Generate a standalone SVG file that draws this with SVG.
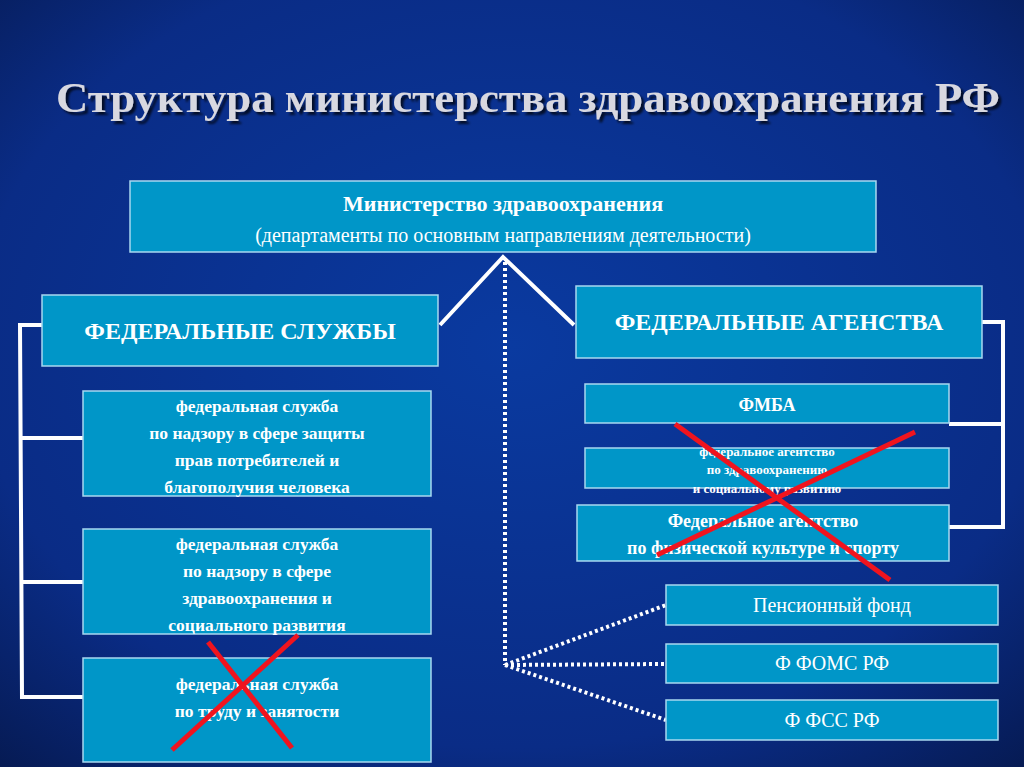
<svg xmlns="http://www.w3.org/2000/svg" width="1024" height="767" viewBox="0 0 1024 767">
<defs>
<radialGradient id="bg" cx="0.5" cy="0.45" r="0.75">
<stop offset="0" stop-color="#0a3aa0"/><stop offset="0.7" stop-color="#0a2c86"/><stop offset="1" stop-color="#061a52"/>
</radialGradient>
<filter id="sh" x="-5%" y="-30%" width="110%" height="160%"><feDropShadow dx="3" dy="3" stdDeviation="1" flood-color="#000" flood-opacity="0.7"/></filter>
<style>
.b{fill:#0096c8;stroke:#a8d8f0;stroke-width:1.5}
.t{font-family:"Liberation Serif",serif;font-weight:bold;fill:#fff;text-anchor:middle}
.w{stroke:#fff;fill:none;stroke-width:4}
.d{stroke:#fff;fill:none;stroke-width:4;stroke-dasharray:3 3}
.x{stroke:#f0141e;stroke-width:5}
</style>
</defs>
<rect width="1024" height="767" fill="url(#bg)"/>
<text x="528" y="112" class="t" font-size="43" textLength="944" lengthAdjust="spacingAndGlyphs" style="fill:#d8d8e0" filter="url(#sh)">Структура министерства здравоохранения РФ</text>
<g id="connectors">
<polyline class="w" points="440,325 503,257 574,325" stroke-width="9"/>
<polyline class="d" points="505,262 505,665"/>
<polyline class="d" points="505,665 666,605"/>
<polyline class="d" points="505,665 666,664"/>
<polyline class="d" points="505,665 666,720"/>
<polyline class="w" points="42,325 20,325 22,697 83,697"/>
<line class="w" x1="21" y1="438" x2="83" y2="438"/>
<line class="w" x1="21" y1="582" x2="83" y2="582"/>
<polyline class="w" points="982,322 1003,322 1003,527 949,527"/>
<line class="w" x1="949" y1="424" x2="1003" y2="424"/>
</g>
<g id="ministry"><rect class="b" x="130" y="181" width="746" height="71"/>
<text class="t" x="503" y="211" font-size="22">Министерство здравоохранения</text>
<text class="t" x="503" y="242" font-size="20" style="font-weight:normal">(департаменты по основным направлениям деятельности)</text></g>
<g id="fs"><rect class="b" x="42" y="295" width="396" height="71"/><text class="t" x="240" y="339" font-size="24">ФЕДЕРАЛЬНЫЕ СЛУЖБЫ</text></g>
<g id="fs1"><rect class="b" x="83" y="391" width="348" height="105"/>
<text class="t" font-size="17.5"><tspan x="257" y="412">федеральная служба</tspan><tspan x="257" y="439">по надзору в сфере защиты</tspan><tspan x="257" y="466">прав потребителей и</tspan><tspan x="257" y="493">благополучия человека</tspan></text></g>
<g id="fs2"><rect class="b" x="83" y="529" width="348" height="105"/>
<text class="t" font-size="17.5"><tspan x="257" y="550">федеральная служба</tspan><tspan x="257" y="577">по надзору в сфере</tspan><tspan x="257" y="604">здравоохранения и</tspan><tspan x="257" y="631">социального развития</tspan></text></g>
<g id="fs3"><rect class="b" x="83" y="658" width="348" height="104"/>
<text class="t" font-size="17.5"><tspan x="257" y="690">федеральная служба</tspan><tspan x="257" y="717">по труду и занятости</tspan></text></g>
<g id="fa"><rect class="b" x="576" y="286" width="406" height="72"/><text class="t" x="779" y="330" font-size="24">ФЕДЕРАЛЬНЫЕ АГЕНСТВА</text></g>
<g id="fmba"><rect class="b" x="585" y="384" width="364" height="39"/><text class="t" x="767" y="411" font-size="18">ФМБА</text></g>
<g id="fa2"><rect class="b" x="585" y="448" width="364" height="40"/>
<text class="t" font-size="13"><tspan x="767" y="456">федеральное агентство</tspan><tspan x="767" y="474">по здравоохранению</tspan><tspan x="767" y="493">и социальному развитию</tspan></text></g>
<g id="fa3"><rect class="b" x="577" y="505" width="372" height="56"/>
<text class="t" font-size="18"><tspan x="763" y="527">Федеральное  агентство</tspan><tspan x="763" y="554">по физической культуре и спорту</tspan></text></g>
<g id="pf"><rect class="b" x="666" y="585" width="332" height="40"/><text class="t" x="832" y="612" font-size="20" style="font-weight:normal">Пенсионный фонд</text></g>
<g id="foms"><rect class="b" x="666" y="644" width="332" height="39"/><text class="t" x="832" y="670" font-size="20" style="font-weight:normal">Ф ФОМС РФ</text></g>
<g id="fss"><rect class="b" x="666" y="700" width="332" height="40"/><text class="t" x="832" y="727" font-size="20" style="font-weight:normal">Ф ФСС РФ</text></g>
<line class="x" x1="298" y1="635" x2="172" y2="750"/>
<line class="x" x1="208" y1="642" x2="292" y2="748"/>
<line class="x" x1="675" y1="424" x2="890" y2="580"/>
<line class="x" x1="915" y1="432" x2="657" y2="555"/>
</svg>
